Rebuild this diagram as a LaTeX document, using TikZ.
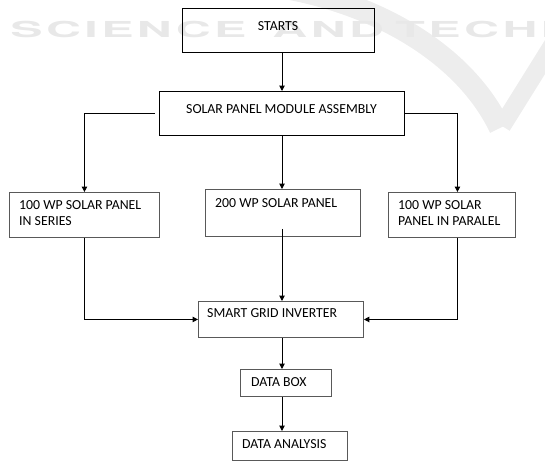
\documentclass[tikz,border=0pt]{standalone}
\usepackage{fontspec}
\setmainfont{Carlito}
\newfontfamily\wmfont[LetterSpace=7]{TeX Gyre Heros}
\usetikzlibrary{arrows.meta}
\begin{document}
\begin{tikzpicture}[x=1pt,y=-1pt,
  mainbox/.style={draw=black, line width=1.2pt, inner sep=0pt, anchor=north west},
  subbox/.style={draw=black!65, line width=0.9pt, inner sep=0pt, anchor=north west},
  lbl/.style={font=\fontsize{13.8}{16}\selectfont, inner sep=0pt, align=left, anchor=base west},
  clbl/.style={font=\fontsize{13.8}{16}\selectfont, inner sep=0pt, anchor=base},
  arr/.style={draw=black, line width=1pt, -{Triangle[length=5.5pt,width=5.5pt]}},
  wm/.style={font=\wmfont\bfseries\fontsize{22}{22}\selectfont, text=black!9, inner sep=0pt, anchor=base west, xscale=2.2, transform shape}
]
\useasboundingbox (0,0) rectangle (545,461);
% watermark
\draw[black!7, line width=22pt] (285,-12) .. controls (380,5) and (465,55) .. (500,128);
\draw[black!7, line width=18pt] (565,25) -- (502,126);
\node[wm] (wm1) at (10,37.5) {SCIENCE};
\node[wm] (wm2) at (272,37.5) {AND};
\node[wm] (wm3) at (395,37.5) {TECHN};

% boxes
\node[mainbox, minimum width=192pt, minimum height=44pt] (start) at (182,8) {};
\node[mainbox, minimum width=245pt, minimum height=44pt] (asm) at (159,91) {};
\node[subbox, minimum width=150pt, minimum height=45pt] (ser) at (9,192) {};
\node[subbox, minimum width=155pt, minimum height=47pt] (mid) at (205,189) {};
\node[subbox, minimum width=127pt, minimum height=45pt] (par) at (388,192) {};
\node[subbox, minimum width=165pt, minimum height=36pt] (inv) at (198,301) {};
\node[subbox, minimum width=91pt, minimum height=27pt] (dbox) at (240,369) {};
\node[subbox, minimum width=115pt, minimum height=29pt] (ana) at (232,431) {};

% texts
\node[clbl] (t1) at (278,30) {STARTS};
\node[clbl] (t2) at (281.5,113) {SOLAR PANEL MODULE ASSEMBLY};
\node[lbl] (t3) at (19,225) {100 WP SOLAR PANEL\\IN SERIES};
\node[lbl] (t4) at (215,207) {200 WP SOLAR PANEL};
\node[lbl] (t5) at (398,225) {100 WP SOLAR\\PANEL IN PARALEL};
\node[lbl] (t6) at (207,317) {SMART GRID INVERTER};
\node[lbl] (t7) at (251,386) {DATA BOX};
\node[lbl] (t8) at (242,448) {DATA ANALYSIS};

% connectors
\coordinate (c) at (282,0);
\draw[arr] (c |- start.south) -- (c |- asm.north);
\draw[arr] ([xshift=-4pt]asm.west) -| (ser.north);
\draw[arr] (asm.east) -| ([xshift=5.5pt]par.north);
\draw[arr] (c |- asm.south) -- (c |- mid.north);
\draw[arr] ([yshift=8pt]c |- mid.south) -- (c |- inv.north);
\draw[arr] (ser.south) |- (inv.west);
\draw[arr] ([xshift=5.5pt]par.south) |- (inv.east);
\draw[arr] (c |- inv.south) -- (c |- dbox.north);
\draw[arr] (c |- dbox.south) -- (c |- ana.north);
\end{tikzpicture}
\end{document}
